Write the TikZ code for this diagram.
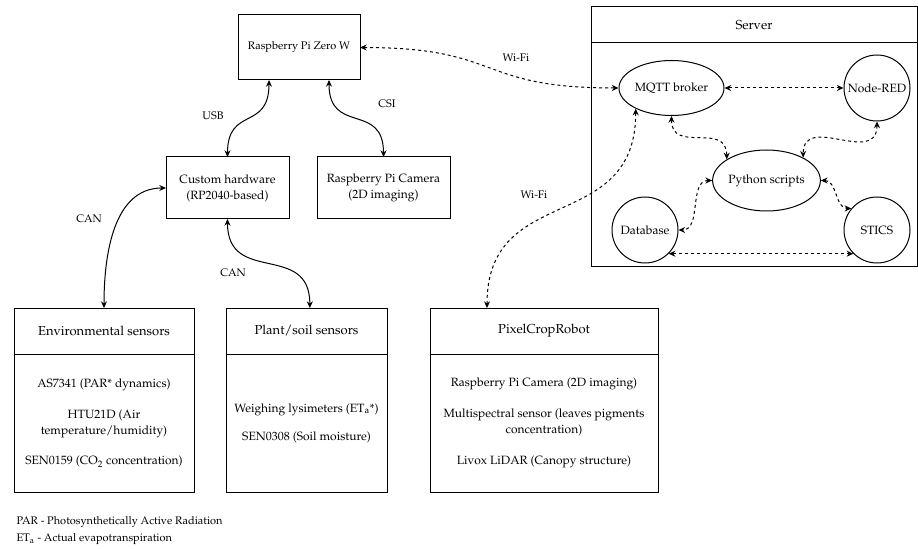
\documentclass[tikz,border=0pt]{standalone}
\usepackage[T1]{fontenc}
\usepackage{mathpazo}
\usepackage{tikz}
\usetikzlibrary{shapes.geometric,arrows.meta,positioning}

\begin{document}
\begin{tikzpicture}[x=0.75pt,y=-0.75pt,line width=0.75pt,
	box/.style={draw,rectangle,inner sep=0pt,outer sep=0pt,align=center,font=\fontsize{9}{12}\selectfont},
	head/.style={box,minimum height=34.5pt,font=\fontsize{9.75}{12}\selectfont},
	oval/.style={draw,ellipse,inner sep=0pt,minimum width=78.75pt,font=\fontsize{9}{12}\selectfont},
	disc/.style={draw,circle,inner sep=0pt,minimum size=49.5pt,font=\fontsize{9}{12}\selectfont},
	wire/.style={{Stealth[length=5pt,width=4.5pt]}-{Stealth[length=5pt,width=4.5pt]}},
	wifi/.style={wire,dash pattern=on 2.25pt off 2.25pt},
	lbl/.style={inner sep=0pt,font=\fontsize{8.25}{10}\selectfont}]
	\useasboundingbox (0,0) rectangle (918,549);

	\node[box,minimum width=91.5pt,minimum height=48.75pt,font=\fontsize{8.25}{10}\selectfont] (zero) at (299,47.5) {Raspberry Pi Zero W};
	\node[box,minimum width=92.25pt,minimum height=46.5pt] (hw) at (227.5,188) {Custom hardware\\(RP2040-based)};
	\node[box,minimum width=99.75pt,minimum height=46.5pt] (cam) at (383.5,188) {Raspberry Pi Camera\\(2D imaging)};

	\node[head,minimum width=135pt] (envt) at (104,331) {Environmental sensors};
	\node[box,minimum width=135pt,minimum height=103.5pt,below=0pt of envt] (envb)
		{AS7341 (PAR* dynamics)\\[11pt]HTU21D (Air\\temperature/humidity)\\[11pt]SEN0159 (CO\textsubscript{2} concentration)};
	\node[head,minimum width=120.75pt] (plantt) at (306.5,331) {Plant/soil sensors};
	\node[box,minimum width=120.75pt,minimum height=103.5pt,below=0pt of plantt] (plantb)
		{Weighing lysimeters (ET\textsubscript{a}*)\\[9pt]SEN0308 (Soil moisture)};
	\node[head,minimum width=171pt] (pixt) at (544,331) {PixelCropRobot};
	\node[box,minimum width=171pt,minimum height=103.5pt,below=0pt of pixt] (pixb)
		{Raspberry Pi Camera (2D imaging)\\[11pt]Multispectral sensor (leaves pigments\\concentration)\\[11pt]Livox LiDAR (Canopy structure)};

	\node[head,minimum width=244.5pt,minimum height=27pt] (servt) at (754,25) {Server};
	\node[box,minimum width=244.5pt,minimum height=168pt,below=0pt of servt] (servb) {};
	\node[oval,minimum height=41.25pt] (mqtt) at (671.5,88) {MQTT broker};
	\node[disc] (nodered) at (877,88) {Node-RED};
	\node[oval,minimum height=45.75pt] (python) at (766.5,180.5) {Python scripts};
	\node[disc] (db) at (645,230) {Database};
	\node[disc] (stics) at (877,230) {STICS};

	\draw[wire] ([xshift=-22.5pt]zero.south) to[out=-90,in=90,looseness=1.5] (hw.north);
	\draw[wire] ([xshift=22.5pt]zero.south) to[out=-90,in=90,looseness=1.5] (cam.north);
	\draw[wire] (hw.west) to[out=180,in=90] (envt.north);
	\draw[wire] (hw.south) to[out=-90,in=90,looseness=1.4] ([xshift=2.5pt]plantt.north);

	\draw[wifi] (zero.east) to[out=0,in=180,looseness=1.4] (mqtt.west);
	\draw[wifi] (mqtt.east) -- (nodered.west);
	\draw[wifi] (mqtt.south) to[out=-90,in=90,looseness=1.4] (python.152);
	\draw[wifi] (nodered.south) to[out=-90,in=90,looseness=1.4] (python.32);
	\draw[wifi] (python.west) to[out=180,in=0] (db.east);
	\draw[wifi] (python.east) to[out=0,in=180] (stics.140);
	\draw[wifi] (db.-45) -- (stics.-135);
	\draw[wifi] ([xshift=-42.75pt]pixt.north) to[out=90,in=-90,looseness=1.3] (mqtt.-150);

	\node[lbl] (usb) at (213,116) {USB};
	\node[lbl] (csi) at (387,104) {CSI};
	\node[lbl] (canl) at (89,219) {CAN};
	\node[lbl] (canb) at (233,273) {CAN};
	\node[lbl] (wifia) at (516,58) {Wi-Fi};
	\node[lbl] (wifib) at (534,195) {Wi-Fi};
	\node[lbl,anchor=west,align=left,font=\fontsize{8.25}{12.75}\selectfont] (notes) at (16,530.5)
		{PAR - Photosynthetically Active Radiation\\ET\textsubscript{a} - Actual evapotranspiration};
\end{tikzpicture}
\end{document}
